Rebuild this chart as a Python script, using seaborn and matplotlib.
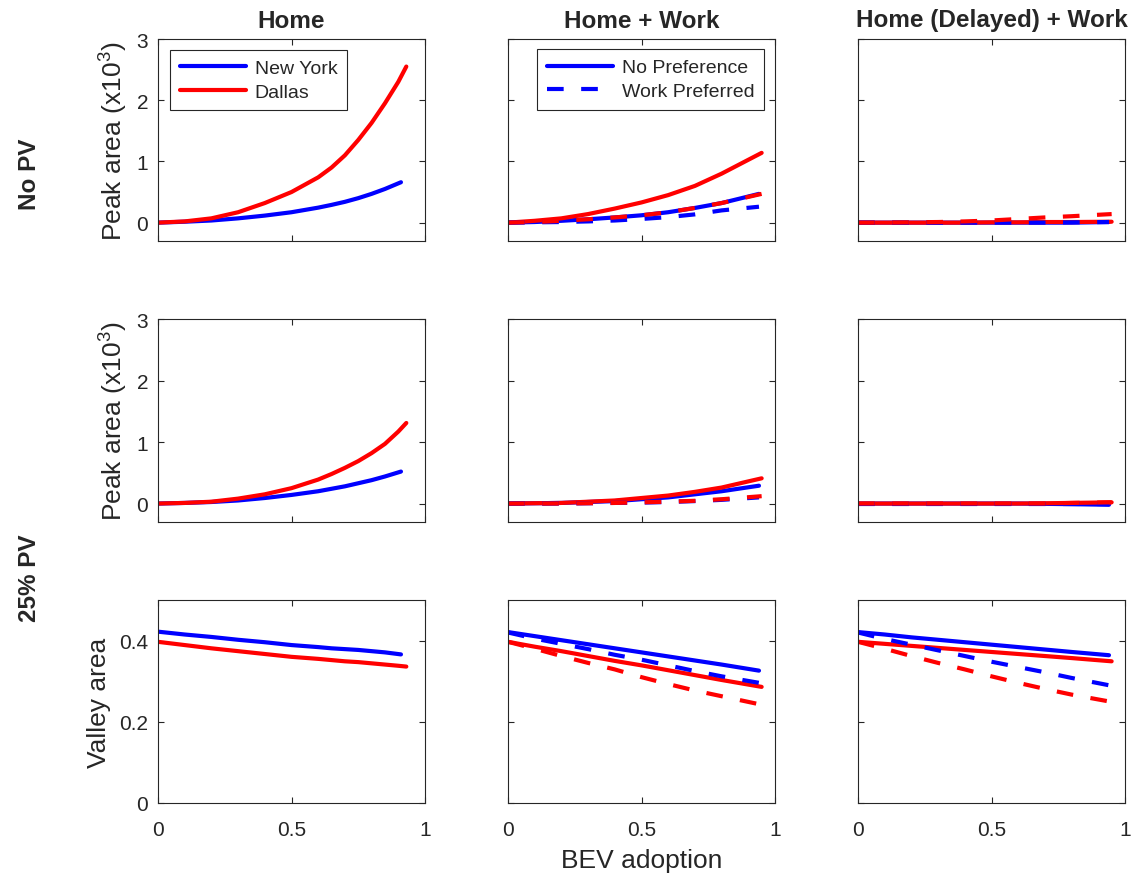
import numpy as np
import matplotlib.pyplot as plt
import seaborn as sns

# BEV adoption grids (lines stop short of 1)
x_ny = [0, 0.1, 0.2, 0.3, 0.4, 0.5, 0.6, 0.65, 0.7, 0.75, 0.8, 0.85, 0.91]
x_dal = [0, 0.1, 0.2, 0.3, 0.4, 0.5, 0.6, 0.65, 0.7, 0.75, 0.8, 0.85, 0.9, 0.93]
x_ny_w = [0, 0.1, 0.2, 0.3, 0.4, 0.5, 0.6, 0.7, 0.8, 0.94]
x_dal_w = [0, 0.1, 0.2, 0.3, 0.4, 0.5, 0.6, 0.7, 0.8, 0.95]

col_titles = ['Home', 'Home + Work', 'Home (Delayed) + Work']
row_labels = ['No PV', '25% PV']
city_names = ['New York', 'Dallas']
pref_names = ['No Preference', 'Work Preferred']

# No PV, peak area (x10^3)
nopv_home_ny = [0, 0.015, 0.035, 0.07, 0.115, 0.17, 0.245, 0.29, 0.34, 0.4, 0.47, 0.55, 0.66]
nopv_home_dal = [0, 0.02, 0.07, 0.17, 0.32, 0.5, 0.74, 0.9, 1.1, 1.35, 1.63, 1.95, 2.3, 2.55]
nopv_work_ny = [0, 0.01, 0.03, 0.055, 0.085, 0.12, 0.17, 0.24, 0.32, 0.47]
nopv_work_dal = [0, 0.03, 0.07, 0.14, 0.23, 0.33, 0.45, 0.6, 0.8, 1.14]
nopv_workpref_ny = [0, 0.005, 0.01, 0.02, 0.035, 0.06, 0.09, 0.135, 0.2, 0.26]
nopv_workpref_dal = [0, 0.01, 0.03, 0.055, 0.085, 0.12, 0.17, 0.24, 0.32, 0.47]
nopv_delay_ny = [0, 0, 0, 0, 0, 0, 0, 0, 0, 0.01]
nopv_delay_dal = [0, 0, 0, 0, 0, 0.005, 0.005, 0.01, 0.01, 0.015]
nopv_delaypref_ny = [0, 0, 0, 0, 0, 0, 0, 0, 0.005, 0.01]
nopv_delaypref_dal = [0, 0, 0.005, 0.01, 0.02, 0.035, 0.06, 0.085, 0.105, 0.14]

# 25% PV, peak area (x10^3)
pv_home_ny = [0, 0.01, 0.025, 0.05, 0.09, 0.14, 0.2, 0.24, 0.28, 0.33, 0.38, 0.44, 0.52]
pv_home_dal = [0, 0.01, 0.03, 0.08, 0.15, 0.25, 0.39, 0.48, 0.58, 0.69, 0.82, 0.97, 1.17, 1.31]
pv_work_ny = [0, 0.005, 0.01, 0.025, 0.04, 0.07, 0.1, 0.15, 0.2, 0.29]
pv_work_dal = [0, 0.005, 0.01, 0.03, 0.05, 0.09, 0.13, 0.19, 0.26, 0.41]
pv_workpref_ny = [0, 0, 0, 0.005, 0.01, 0.015, 0.025, 0.04, 0.06, 0.1]
pv_workpref_dal = [0, 0, 0, 0.005, 0.01, 0.02, 0.03, 0.045, 0.07, 0.12]
pv_delay_ny = [0, 0, 0, 0, 0, 0, 0, -0.005, -0.01, -0.02]
pv_delay_dal = [0, 0, 0, 0, 0, 0, 0, 0.005, 0.01, 0.02]
pv_delaypref_ny = [0, 0, 0, 0, 0, 0, 0, 0, 0, 0]
pv_delaypref_dal = [0, 0, 0, 0, 0, 0, 0, 0, 0.01, 0.02]

# 25% PV, valley area
valley_home_ny = [0.422, 0.415, 0.409, 0.402, 0.396, 0.389, 0.384, 0.381, 0.379, 0.377, 0.374, 0.371, 0.366]
valley_home_dal = [0.397, 0.389, 0.381, 0.374, 0.367, 0.36, 0.355, 0.352, 0.349, 0.347, 0.344, 0.341, 0.338, 0.336]
valley_work_ny = [0.421, 0.411, 0.401, 0.391, 0.381, 0.371, 0.361, 0.351, 0.341, 0.326]
valley_work_dal = [0.397, 0.385, 0.374, 0.362, 0.35, 0.339, 0.327, 0.315, 0.303, 0.286]
valley_workpref_ny = [0.42, 0.405, 0.392, 0.379, 0.365, 0.353, 0.339, 0.325, 0.312, 0.296]
valley_workpref_dal = [0.397, 0.38, 0.362, 0.345, 0.329, 0.31, 0.293, 0.277, 0.263, 0.242]
valley_delay_ny = [0.421, 0.415, 0.408, 0.402, 0.396, 0.39, 0.384, 0.378, 0.372, 0.364]
valley_delay_dal = [0.397, 0.392, 0.387, 0.382, 0.377, 0.372, 0.367, 0.362, 0.357, 0.349]
valley_delaypref_ny = [0.42, 0.404, 0.39, 0.376, 0.362, 0.348, 0.335, 0.322, 0.308, 0.29]
valley_delaypref_dal = [0.397, 0.38, 0.362, 0.345, 0.329, 0.312, 0.296, 0.281, 0.267, 0.249]

sns.set_theme(style='ticks')
plt.rcParams['font.family'] = ['Liberation Sans', 'DejaVu Sans']
plt.rcParams['mathtext.default'] = 'regular'

BLUE = (0, 0, 1)
RED = (1, 0, 0)
DASH = (0, (4, 4.2))
AX_COLOR = '#262626'
LW = 3

panels = [
    [[(x_ny, nopv_home_ny, BLUE, '-'), (x_dal, nopv_home_dal, RED, '-')],
     [(x_ny_w, nopv_work_ny, BLUE, '-'), (x_dal_w, nopv_work_dal, RED, '-'),
      (x_ny_w, nopv_workpref_ny, BLUE, DASH), (x_dal_w, nopv_workpref_dal, RED, DASH)],
     [(x_ny_w, nopv_delay_ny, BLUE, '-'), (x_dal_w, nopv_delay_dal, RED, '-'),
      (x_ny_w, nopv_delaypref_ny, BLUE, DASH), (x_dal_w, nopv_delaypref_dal, RED, DASH)]],
    [[(x_ny, pv_home_ny, BLUE, '-'), (x_dal, pv_home_dal, RED, '-')],
     [(x_ny_w, pv_work_ny, BLUE, '-'), (x_dal_w, pv_work_dal, RED, '-'),
      (x_ny_w, pv_workpref_ny, BLUE, DASH), (x_dal_w, pv_workpref_dal, RED, DASH)],
     [(x_ny_w, pv_delay_ny, BLUE, '-'), (x_dal_w, pv_delay_dal, RED, '-'),
      (x_ny_w, pv_delaypref_ny, BLUE, DASH), (x_dal_w, pv_delaypref_dal, RED, DASH)]],
    [[(x_ny, valley_home_ny, BLUE, '-'), (x_dal, valley_home_dal, RED, '-')],
     [(x_ny_w, valley_work_ny, BLUE, '-'), (x_dal_w, valley_work_dal, RED, '-'),
      (x_ny_w, valley_workpref_ny, BLUE, DASH), (x_dal_w, valley_workpref_dal, RED, DASH)],
     [(x_ny_w, valley_delay_ny, BLUE, '-'), (x_dal_w, valley_delay_dal, RED, '-'),
      (x_ny_w, valley_delaypref_ny, BLUE, DASH), (x_dal_w, valley_delaypref_dal, RED, DASH)]],
]

W, H = 1132, 878
fig = plt.figure(figsize=(W / 100, H / 100), dpi=100)

lefts = [158, 508, 858]
rows_px = [(40, 242), (320, 523), (601, 804)]
width = 267

axes = []
for r, (top, bot) in enumerate(rows_px):
    row_axes = []
    for c, left in enumerate(lefts):
        ax = fig.add_axes([left / W, 1 - bot / H, width / W, (bot - top) / H])
        for xs, ys, color, ls in panels[r][c]:
            sns.lineplot(x=xs, y=ys, ax=ax, color=color, linewidth=LW,
                         linestyle=ls, sort=False, legend=False)
        ax.set_xlim(0, 1)
        ax.set_xticks([0, 0.5, 1])
        ax.set_xticklabels(['0', '0.5', '1'])
        if r < 2:
            ax.set_ylim(-0.3, 3)
            ax.set_yticks([0, 1, 2, 3])
            ax.set_yticklabels(['0', '1', '2', '3'])
        else:
            ax.set_ylim(0, 0.5)
            ax.set_yticks([0, 0.2, 0.4])
            ax.set_yticklabels(['0', '0.2', '0.4'])
        ax.tick_params(direction='in', top=True, right=True, length=4, width=0.8,
                       colors=AX_COLOR, labelsize=15)
        ax.tick_params(axis='x', pad=12)
        ax.tick_params(axis='y', pad=7)
        ax.tick_params(labelleft=(c == 0), labelbottom=(r == 2))
        for sp in ax.spines.values():
            sp.set_color(AX_COLOR)
            sp.set_linewidth(0.8)
        ax.set_xlabel('')
        ax.set_ylabel('')
        row_axes.append(ax)
    axes.append(row_axes)

for c, title in enumerate(col_titles):
    axes[0][c].set_title(title, fontsize=17.5, fontweight='bold', pad=9)

for r in range(2):
    axes[r][0].set_ylabel('Peak area (x10$^3$)', fontsize=19, color=AX_COLOR)
    axes[r][0].yaxis.set_label_coords(-0.105, 0.5)
axes[2][0].set_ylabel('Valley area', fontsize=19, color=AX_COLOR)
axes[2][0].yaxis.set_label_coords(-0.176, 0.5)

axes[2][1].set_xlabel('BEV adoption', fontsize=19, color=AX_COLOR, labelpad=7)

fig.text(29 / W, 1 - 174 / H, row_labels[0], rotation=90, fontsize=17.5,
         fontweight='bold', ha='center', va='center')
fig.text(29 / W, 1 - 578 / H, row_labels[1], rotation=90, fontsize=17.5,
         fontweight='bold', ha='center', va='center')

leg_kw = dict(loc='upper left', fontsize=14, frameon=True, fancybox=False,
              framealpha=1, edgecolor=AX_COLOR, borderaxespad=0,
              handlelength=3.4, handletextpad=0.45, labelspacing=0.3, borderpad=0.5)
ax0 = axes[0][0]
leg1 = ax0.legend([ax0.lines[0], ax0.lines[1]], city_names,
                  bbox_to_anchor=(0.045, 0.946), **leg_kw)
ax1 = axes[0][1]
leg2 = ax1.legend([ax1.lines[0], ax1.lines[2]], pref_names,
                  bbox_to_anchor=(0.109, 0.95), **leg_kw)
for leg in (leg1, leg2):
    leg.get_frame().set_linewidth(0.8)
    for t in leg.get_texts():
        t.set_color(AX_COLOR)

fig.savefig('out.png', dpi=100)
